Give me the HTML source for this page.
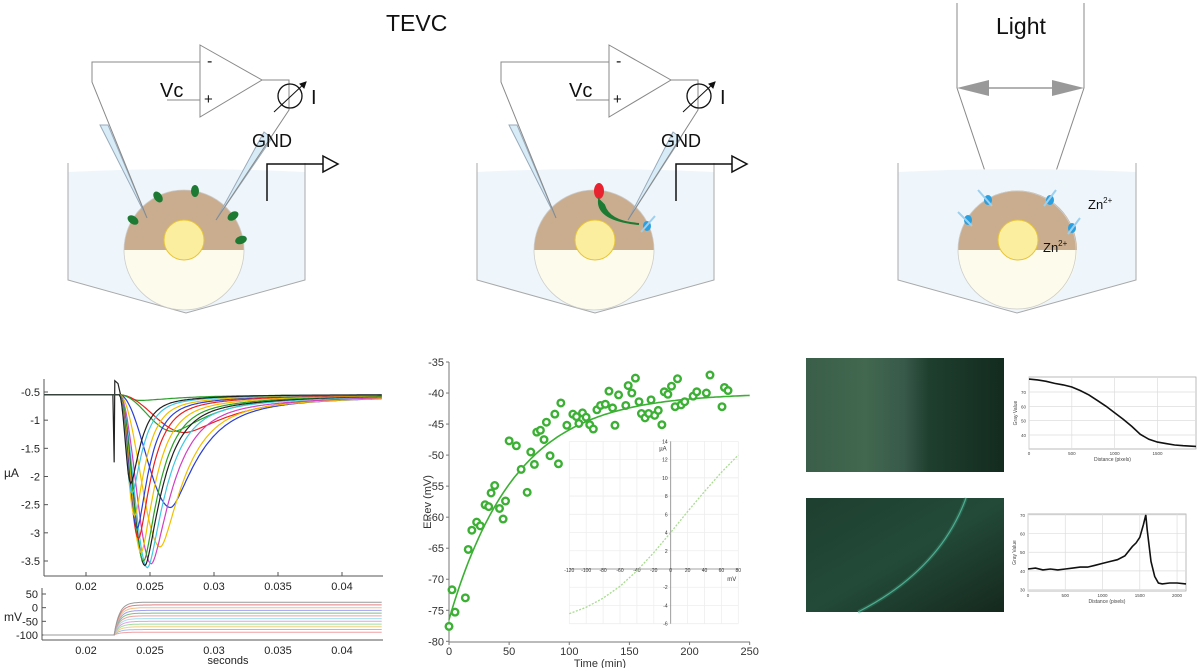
<!DOCTYPE html>
<html><head><meta charset="utf-8"><style>
html,body{margin:0;padding:0;background:#fff;}
svg{display:block;font-family:"Liberation Sans",sans-serif;}
</style></head><body>
<svg id="fig" width="1200" height="668" viewBox="0 0 1200 668" xmlns="http://www.w3.org/2000/svg">
<defs>
<linearGradient id="img1g" x1="0" x2="1" y1="0" y2="0">
<stop offset="0" stop-color="#3a5e49"/><stop offset="0.3" stop-color="#42684f"/><stop offset="0.5" stop-color="#37594a"/><stop offset="0.62" stop-color="#1f3f2e"/><stop offset="1" stop-color="#132b1f"/></linearGradient>
<linearGradient id="img2g" x1="0" x2="1" y1="0" y2="1">
<stop offset="0" stop-color="#1e3f2f"/><stop offset="0.5" stop-color="#234a39"/><stop offset="1" stop-color="#15281d"/></linearGradient>
</defs>

<!-- ===== Schematic 1 ===== -->
<g>
<text x="386" y="31" font-size="23" fill="#111">TEVC</text>
<g>
<path d="M68,172 Q186,166 305,172 L305,280 L186,313 L68,280 Z" fill="#eef6fb"/>
<path d="M68,163 L68,280 L186,313 L305,280 L305,163" fill="none" stroke="#a9a9a9" stroke-width="1"/>
</g>
<g>
<path d="M124,250 A60,60 0 0 1 244,250 Z" fill="#c9ad8e"/>
<path d="M124,250 A60,60 0 0 0 244,250 Z" fill="#fdfbeb"/>
<circle cx="184" cy="250" r="60" fill="none" stroke="#ccc" stroke-width="0.8"/>
<circle cx="184" cy="240" r="20" fill="#fbee9e" stroke="#e6c43a" stroke-width="1"/>
<g fill="#1c7a32">
<ellipse cx="133" cy="220" rx="4" ry="6" transform="rotate(-55 133 220)"/>
<ellipse cx="158" cy="197" rx="4" ry="6" transform="rotate(-35 158 197)"/>
<ellipse cx="195" cy="191" rx="4" ry="6"/>
<ellipse cx="233" cy="216" rx="4" ry="6" transform="rotate(55 233 216)"/>
<ellipse cx="241" cy="240" rx="4" ry="6" transform="rotate(70 241 240)"/>
</g></g>
<g stroke="#888" fill="none" stroke-width="1">
<polygon points="100,125 108,125 147,218" fill="#d8ecf7" stroke="#9ab"/>
<polyline points="200,62 92,62 92,82 147,218"/>
<polygon points="264,132 272,138 216,220" fill="#d8ecf7" stroke="#9ab"/>
<polyline points="262,80 289,80 289,110 216,220"/>
<polyline points="167,100 200,100"/>
<polygon points="200,45 262,80 200,117" fill="#fff"/>
<circle cx="290" cy="96" r="12" stroke="#111" stroke-width="1.3"/>
<line x1="274" y1="112" x2="306" y2="82" stroke="#111"/>
<polygon points="306,82 300,84 304,88" fill="#111" stroke="#111"/>
</g>
<text x="207" y="66" font-size="16" fill="#111">-</text>
<text x="204" y="104" font-size="15" fill="#111">+</text>
<text x="160" y="97" font-size="20" fill="#111">Vc</text>
<text x="311" y="104" font-size="20" fill="#111">I</text>
<text x="252" y="147" font-size="18" fill="#111">GND</text>
<g fill="#fff" stroke="#111" stroke-width="1.5">
<polyline points="267,201 267,164 323,164" fill="none"/>
<polygon points="323,156 338,164 323,172"/>
</g>
</g>

<!-- ===== Schematic 2 ===== -->
<g transform="translate(409,0)">
<g>
<path d="M68,172 Q186,166 305,172 L305,280 L186,313 L68,280 Z" fill="#eef6fb"/>
<path d="M68,163 L68,280 L186,313 L305,280 L305,163" fill="none" stroke="#a9a9a9" stroke-width="1"/>
</g>
<g>
<path d="M125,250 A60,60 0 0 1 245,250 Z" fill="#c9ad8e"/>
<path d="M125,250 A60,60 0 0 0 245,250 Z" fill="#fdfbeb"/>
<circle cx="185" cy="250" r="60" fill="none" stroke="#ccc" stroke-width="0.8"/>
<circle cx="186" cy="240" r="20" fill="#fbee9e" stroke="#e6c43a" stroke-width="1"/>
<ellipse cx="190" cy="191" rx="5" ry="8" fill="#e8222e"/>
<path d="M190,200 Q188,220 230,224 Q200,222 195,205 Z" fill="#1c7a32" stroke="#1c7a32" stroke-width="2"/>
<ellipse cx="238" cy="226" rx="4" ry="5" fill="#2ba0e0"/>
<line x1="232" y1="232" x2="246" y2="216" stroke="#9cd0f0" stroke-width="2"/>
</g>
<g stroke="#888" fill="none" stroke-width="1">
<polygon points="100,125 108,125 147,218" fill="#d8ecf7" stroke="#9ab"/>
<polyline points="200,62 92,62 92,82 147,218"/>
<polygon points="264,132 272,138 219,220" fill="#d8ecf7" stroke="#9ab"/>
<polyline points="262,80 289,80 289,110 219,220"/>
<polyline points="167,100 200,100"/>
<polygon points="200,45 262,80 200,117" fill="#fff"/>
<circle cx="290" cy="96" r="12" stroke="#111" stroke-width="1.3"/>
<line x1="274" y1="112" x2="306" y2="82" stroke="#111"/>
<polygon points="306,82 300,84 304,88" fill="#111" stroke="#111"/>
</g>
<text x="207" y="66" font-size="16" fill="#111">-</text>
<text x="204" y="104" font-size="15" fill="#111">+</text>
<text x="160" y="97" font-size="20" fill="#111">Vc</text>
<text x="311" y="104" font-size="20" fill="#111">I</text>
<text x="252" y="147" font-size="18" fill="#111">GND</text>
<g fill="#fff" stroke="#111" stroke-width="1.5">
<polyline points="267,201 267,164 323,164" fill="none"/>
<polygon points="323,156 338,164 323,172"/>
</g>
</g>

<!-- ===== Schematic 3 ===== -->
<g>
<text x="996" y="34" font-size="23" fill="#111">Light</text>
<g stroke="#888" stroke-width="1" fill="none">
<line x1="957" y1="3" x2="957" y2="88"/><line x1="1084" y1="3" x2="1084" y2="88"/>
<line x1="957" y1="88" x2="993" y2="195"/><line x1="1084" y1="88" x2="1048" y2="195"/>
<line x1="970" y1="88" x2="1071" y2="88" stroke="#999" stroke-width="1.5"/>
</g>
<polygon points="957,88 989,80 989,96" fill="#999"/>
<polygon points="1084,88 1052,80 1052,96" fill="#999"/>
<path d="M898,172 Q1017,166 1136,172 L1136,280 L1017,313 L898,280 Z" fill="#eef6fb"/>
<path d="M898,163 L898,280 L1017,313 L1136,280 L1136,163" fill="none" stroke="#a9a9a9" stroke-width="1"/>
<path d="M958,250 A59,59 0 0 1 1077,250 Z" fill="#c9ad8e"/>
<path d="M958,250 A59,59 0 0 0 1077,250 Z" fill="#fdfbeb"/>
<circle cx="1017" cy="250" r="59" fill="none" stroke="#ccc" stroke-width="0.8"/>
<circle cx="1018" cy="240" r="20" fill="#fbee9e" stroke="#e6c43a" stroke-width="1"/>
<g fill="#2ba0e0">
<ellipse cx="988" cy="200" rx="4" ry="5"/><ellipse cx="968" cy="220" rx="4" ry="5"/>
<ellipse cx="1050" cy="200" rx="4" ry="5"/><ellipse cx="1072" cy="228" rx="4" ry="5"/>
</g>
<g stroke="#9cd0f0" stroke-width="2">
<line x1="978" y1="190" x2="992" y2="206"/><line x1="958" y1="212" x2="972" y2="226"/>
<line x1="1056" y1="190" x2="1044" y2="206"/><line x1="1080" y1="218" x2="1068" y2="234"/>
</g>
<text x="1088" y="209" font-size="13" fill="#111">Zn<tspan font-size="8" dy="-6">2+</tspan></text>
<text x="1043" y="252" font-size="13" fill="#111">Zn<tspan font-size="8" dy="-6">2+</tspan></text>
</g>

<!-- ===== Images ===== -->
<rect x="806" y="358" width="198" height="114" fill="url(#img1g)"/>
<g>
<rect x="806" y="498" width="198" height="114" fill="url(#img2g)"/>
<path d="M966,498 Q940,570 858,612" fill="none" stroke="#3c9a7e" stroke-width="4" opacity="0.3"/>
<path d="M966,498 Q940,570 858,612" fill="none" stroke="#4fae90" stroke-width="1.2"/>
</g>

<g id="charts"></g>
</svg>

<script>
// ---------- Data: sodium current traces ----------
const traceTpeak = [0.0242,0.0277,0.0268,0.0266,0.0258,0.0251,0.0248,0.0246,0.0245,0.0243,0.0241,0.0240,0.0238,0.0236,0.0235];
const tracePeak  = [-0.65,-1.22,-1.20,-2.55,-3.25,-3.55,-3.62,-3.58,-3.50,-3.35,-3.10,-2.92,-2.70,-2.30,-2.12];
const traceTau   = [0.003,0.0035,0.0028,0.0021,0.0018,0.0016,0.0014,0.0013,0.0012,0.0011,0.0010,0.0009,0.00085,0.0008,0.00075];
const traceColor = ["#2aa02a","#e82020","#2aa02a","#2a3fd0","#f0c000","#d040c0","#40c8e0","#202020","#2aa02a","#f0c000","#e82020","#2a3fd0","#f0c000","#40c8e0","#202020"];
const topYTicks = [-0.5,-1,-1.5,-2,-2.5,-3,-3.5];
const xTicks = [0.02,0.025,0.03,0.035,0.04];
const stepLevels = [-90,-80,-70,-60,-50,-40,-30,-20,-10,0,10,20];
const stepColors = ["#f0a0a0","#a0c0f0","#f0d080","#a0e0a0","#e0a0e0","#a0e0f0","#f0a0a0","#80c080","#a0a0f0","#f0c080","#e08080","#999999"];
const mvTicks = [50,0,-50,-100];
// ---------- Data: reversal potential ----------
const timeMin = [0,2.5,5,13.6,16,19,23,26,30,33,35,38,42,45,47,50,56,60,65,68,71,73,76,79,81,84,88,91,93,98,103,106,108,111,114,117,120,123,126,130,133,136,138,141,147,149,152,155,158,160,163,166,168,171,174,177,179,182,185,188,190,193,196,203,206,214,217,227,229,232];
const erev = [-77.6,-71.7,-75.3,-73,-65.2,-62.1,-60.8,-61.4,-58,-58.3,-56.1,-54.9,-58.6,-60.3,-57.4,-47.7,-48.5,-52.3,-56,-49.5,-51.5,-46.3,-46,-47.5,-44.7,-50.1,-43.4,-51.4,-41.6,-45.2,-43.4,-43.8,-44.9,-43.2,-43.9,-45.1,-45.8,-42.7,-42,-41.8,-39.7,-42.4,-45.2,-40.3,-42,-38.8,-40,-37.6,-41.4,-43.3,-44,-43.3,-41.1,-43.6,-42.8,-45.1,-39.8,-40.2,-38.9,-42.2,-37.7,-41.9,-41.4,-40.5,-39.8,-40,-37.1,-42.2,-39.1,-39.6];
const fitPlateau = -40, fitStart = -76.5, fitTau = 55;
const erevYTicks = [-35,-40,-45,-50,-55,-60,-65,-70,-75,-80];
const timeTicks = [0,50,100,150,200,250];
// inset IV
const ivMv = [-120,-100,-80,-60,-40,-20,0,20,40,60,80];
const ivUa = [-4.9,-4.2,-3.2,-1.9,-0.2,1.8,4.0,6.3,8.5,10.6,12.5];
const ivXTicks = [-120,-100,-80,-60,-40,-20,0,20,40,60,80];
const ivYTicks = [-6,-4,-2,2,4,6,8,10,12,14];
// line profiles
const prof1X = [0,100,200,300,400,500,600,700,800,900,1000,1100,1200,1300,1400,1500,1600,1700,1800,1950];
const prof1Y = [79,78.5,77.5,76,75,73.5,71,68,64,60,55.5,51,46,40.5,37,35,34,33,32.5,32];
const prof1XTicks = [0,500,1000,1500];
const prof1YTicks = [70,60,50,40];
const prof2X = [0,100,200,300,400,500,600,700,800,900,1000,1100,1200,1300,1400,1450,1500,1550,1580,1600,1650,1700,1750,1800,1900,2000,2120];
const prof2Y = [41,41.5,40.5,41,40.5,41,41.5,42,42,43,44,45,46,48,53,55,58,65,70,62,45,37,33.5,33,33.5,33.5,33];
const prof2XTicks = [0,500,1000,1500,2000];
const prof2YTicks = [70,60,50,40,30];

const NS = "http://www.w3.org/2000/svg";
const root = document.getElementById('charts');
function el(tag, attrs, parent) {
  const e = document.createElementNS(NS, tag);
  for (const k in attrs) e.setAttribute(k, attrs[k]);
  (parent || root).appendChild(e);
  return e;
}
function txt(x, y, s, size, anchor, parent, fill) {
  const t = el('text', {x: x, y: y, 'font-size': size, 'text-anchor': anchor || 'start', fill: fill || '#222'}, parent);
  t.textContent = s; return t;
}

// ===== Left current chart =====
const gL = el('g', {});


const tx = t => 86 + (t - 0.02) * 12800;
const iy = v => 392 + (-0.5 - v) * 56.33;
const base = -0.55, t0 = 0.0226;
el('line', {x1: 44, y1: 379, x2: 44, y2: 576, stroke: '#555'}, gL);
el('line', {x1: 44, y1: 576, x2: 383, y2: 576, stroke: '#555'}, gL);
topYTicks.forEach(v => {
  el('line', {x1: 44, y1: iy(v), x2: 48, y2: iy(v), stroke: '#555'}, gL);
  txt(40, iy(v) + 4, v === -0.5 ? '-0.5' : String(v), 11, 'end', gL);
});
xTicks.forEach(t => {
  el('line', {x1: tx(t), y1: 576, x2: tx(t), y2: 572, stroke: '#555'}, gL);
  txt(tx(t), 590, String(t), 11, 'middle', gL);
});
txt(4, 477, 'µA', 12, 'start', gL);
// capacitive artifact
el('polyline', {points: [[tx(0.0221),iy(base)],[tx(0.0222),iy(-1.75)],[tx(0.02225),iy(-0.3)],[tx(0.0225),iy(-0.35)],[tx(0.0227),iy(base)]].map(p=>p.join(',')).join(' '), fill: 'none', stroke: '#222', 'stroke-width': 1.2}, gL);
traceTpeak.forEach((tp, i) => {
  const pts = [];
  for (let t = 0.0167; t <= 0.0432; t += 0.0001) {
    let v = base;
    if (t > t0 && t <= tp) { const s = Math.sin(Math.PI / 2 * (t - t0) / (tp - t0)); v = base + (tracePeak[i] - base) * s * s; }
    else if (t > tp) { const d = (t - tp) / traceTau[i]; const de = d * d / (0.5 + d); v = base + (tracePeak[i] - base) * (0.85 * Math.exp(-de) + 0.15 * Math.exp(-de / 5)); }
    pts.push(tx(t).toFixed(1) + ',' + iy(v).toFixed(1));
  }
  const p = el('polyline', {points: pts.join(' '), fill: 'none', stroke: traceColor[i], 'stroke-width': 1.2}, gL);
  
  
});
// voltage steps
const my = mv => 594 + (50 - mv) * 0.2733;
el('line', {x1: 42, y1: 588, x2: 42, y2: 640, stroke: '#555'}, gL);
el('line', {x1: 42, y1: 640, x2: 383, y2: 640, stroke: '#555'}, gL);
mvTicks.forEach(v => {
  el('line', {x1: 42, y1: my(v), x2: 46, y2: my(v), stroke: '#555'}, gL);
  txt(38, my(v) + 4, String(v), 11, 'end', gL);
});
xTicks.forEach(t => txt(tx(t), 654, String(t), 11, 'middle', gL));
txt(4, 621, 'mV', 12, 'start', gL);
txt(228, 664, 'seconds', 11, 'middle', gL);
stepLevels.forEach((lv, i) => {
  const pts = [];
  for (let t = 0.0167; t <= 0.0432; t += 0.0001) {
    let v = -100;
    if (t > 0.0222) v = lv + (-100 - lv) * Math.exp(-(t - 0.0222) / 0.0004);
    pts.push(tx(t).toFixed(1) + ',' + my(v).toFixed(1));
  }
  const p = el('polyline', {points: pts.join(' '), fill: 'none', stroke: stepColors[i], 'stroke-width': 1}, gL);
  
  
});

// ===== Middle Erev chart =====
const gM = el('g', {});


const mx = t => 449 + t * 1.2027;
const ey = v => 362 + (-35 - v) * 6.207;
const ix = v => 670.7 + v * 0.845;
const iyy = v => 569 - v * 9.117;
const gI = el('g', {}, gM);


ivXTicks.forEach(v => el('line', {x1: ix(v), y1: iyy(14), x2: ix(v), y2: iyy(-6), stroke: '#eee', 'stroke-width': 0.8}, gI));
[-6,-4,-2,0,2,4,6,8,10,12,14].forEach(v => el('line', {x1: ix(-120), y1: iyy(v), x2: ix(80), y2: iyy(v), stroke: '#eee', 'stroke-width': 0.8}, gI));
el('line', {x1: ix(-120), y1: iyy(0), x2: ix(80), y2: iyy(0), stroke: '#888', 'stroke-width': 0.8}, gI);
el('line', {x1: ix(0), y1: iyy(14), x2: ix(0), y2: iyy(-6), stroke: '#888', 'stroke-width': 0.8}, gI);
ivXTicks.forEach(v => txt(ix(v), iyy(0) + 3, String(v), 5, 'middle', gI, '#333'));
ivYTicks.forEach(v => txt(ix(0) - 3, iyy(v) + 2, String(v), 5, 'end', gI, '#333'));
txt(ix(0) - 4, iyy(14) + 9, 'µA', 6, 'end', gI, '#333');
txt(ix(80) - 2, iyy(0) + 12, 'mV', 6, 'end', gI, '#333');
const ivLine = el('polyline', {points: ivMv.map((v, i) => ix(v) + ',' + iyy(ivUa[i])).join(' '), fill: 'none', stroke: '#a8dc90', 'stroke-width': 1.3, 'stroke-dasharray': '2,1.5'}, gI);


el('line', {x1: 449, y1: 362, x2: 449, y2: 642, stroke: '#777'}, gM);
el('line', {x1: 449, y1: 642, x2: 750, y2: 642, stroke: '#777'}, gM);
erevYTicks.forEach(v => {
  el('line', {x1: 449, y1: ey(v), x2: 446, y2: ey(v), stroke: '#777'}, gM);
  txt(444, ey(v) + 4, String(v), 11, 'end', gM, '#333');
});
timeTicks.forEach(t => {
  el('line', {x1: mx(t), y1: 642, x2: mx(t), y2: 645, stroke: '#777'}, gM);
  txt(mx(t), 655, String(t), 11, 'middle', gM, '#333');
});
txt(600, 667, 'Time (min)', 11, 'middle', gM, '#333');
const yl = txt(0, 0, 'ERev (mV)', 11, 'middle', gM, '#333');
yl.setAttribute('transform', 'translate(431,502) rotate(-90)');
const fit = [];
for (let t = 0; t <= 250; t += 2) fit.push(mx(t).toFixed(1) + ',' + ey(fitPlateau + (fitStart - fitPlateau) * Math.exp(-t / fitTau)).toFixed(1));
const fl = el('polyline', {points: fit.join(' '), fill: 'none', stroke: '#3cb034', 'stroke-width': 1.6}, gM);


timeMin.forEach((t, i) => {
  const c = el('circle', {cx: mx(t), cy: ey(erev[i]), r: 3.3, fill: '#fff', stroke: '#3cb034', 'stroke-width': 2.4}, gM);
  
  
});

// ===== Profile charts =====
function profile(name, X0, X1, Y0, Y1, xmax, ymin, ymax, xs, ys, xt, yt, xlab) {
  const g = el('g', {});
  
  
  const px = v => X0 + v / xmax * (X1 - X0);
  const py = v => Y1 - (v - ymin) / (ymax - ymin) * (Y1 - Y0);
  el('rect', {x: X0, y: Y0, width: X1 - X0, height: Y1 - Y0, fill: '#fff', stroke: '#aaa', 'stroke-width': 0.8}, g);
  xt.forEach(v => { el('line', {x1: px(v), y1: Y0, x2: px(v), y2: Y1, stroke: '#ddd', 'stroke-width': 0.7}, g); txt(px(v), Y1 + 6, String(v), 4.5, 'middle', g, '#444'); });
  yt.forEach(v => { el('line', {x1: X0, y1: py(v), x2: X1, y2: py(v), stroke: '#ddd', 'stroke-width': 0.7}, g); txt(X0 - 3, py(v) + 2, String(v), 4.5, 'end', g, '#444'); });
  txt((X0 + X1) / 2, Y1 + 12, xlab, 5, 'middle', g, '#444');
  const yl2 = txt(0, 0, 'Gray Value', 5, 'middle', g, '#444');
  yl2.setAttribute('transform', 'translate(' + (X0 - 12) + ',' + ((Y0 + Y1) / 2) + ') rotate(-90)');
  const l = el('polyline', {points: xs.map((v, i) => px(v).toFixed(1) + ',' + py(ys[i]).toFixed(1)).join(' '), fill: 'none', stroke: '#111', 'stroke-width': 1.6}, g);
  
  
}
profile('intensity-profile-1', 1029, 1196, 377, 449, 1950, 30.2, 80.5, prof1X, prof1Y, prof1XTicks, prof1YTicks, 'Distance (pixels)');
profile('intensity-profile-2', 1028, 1186, 514, 591, 2120, 29.2, 70.5, prof2X, prof2Y, prof2XTicks, prof2YTicks, 'Distance (pixels)');
</script>
</body></html>
